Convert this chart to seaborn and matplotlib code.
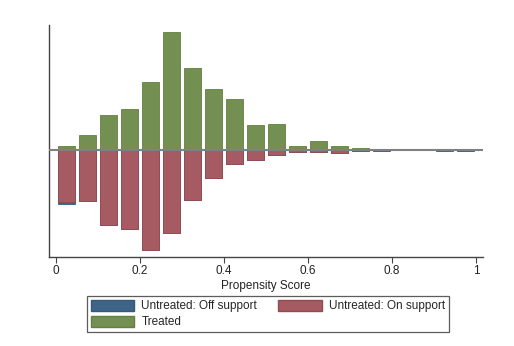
import matplotlib
matplotlib.use("Agg")
import matplotlib.pyplot as plt
import seaborn as sns
import pandas as pd
import numpy as np
from matplotlib.patches import Patch

bins = [0.025, 0.075, 0.125, 0.175, 0.225, 0.275, 0.325, 0.375, 0.425, 0.475,
        0.525, 0.575, 0.625, 0.675, 0.725, 0.775, 0.825, 0.875, 0.925, 0.975]
treated = [0.13, 0.46, 1.07, 1.24, 2.05, 3.56, 2.48, 1.84, 1.54, 0.77,
           0.80, 0.13, 0.28, 0.13, 0.07, 0.0, 0.0, 0.0, 0.0, 0.0]
untreated_on = [1.55, 1.53, 2.24, 2.36, 2.99, 2.49, 1.50, 0.83, 0.41, 0.29,
                0.14, 0.05, 0.05, 0.09, 0.02, 0.0, 0.0, 0.0, 0.0, 0.0]
untreated_off = [0.05, 0.0, 0.0, 0.0, 0.0, 0.0, 0.0, 0.0, 0.0, 0.0,
                 0.0, 0.0, 0.0, 0.0, 0.0, 0.025, 0.0, 0.0, 0.025, 0.025]
xticks = [0, 0.2, 0.4, 0.6, 0.8, 1]
xticklabels = ["0", "0.2", "0.4", "0.6", "0.8", "1"]

c_off = "#3E6587"
c_on = "#A65A62"
c_tr = "#748F52"

df = pd.DataFrame({"ps": bins, "treated": treated,
                   "on": [-v for v in untreated_on],
                   "total": [-(a + b) for a, b in zip(untreated_on, untreated_off)]})

sns.set_style("white")
plt.rcParams["font.family"] = ["Liberation Sans", "DejaVu Sans"]

fig = plt.figure(figsize=(5.14, 3.46), dpi=100)
ax = fig.add_axes([49/514, 1-257/346, (483-49)/514, (257-25)/346])

sns.barplot(data=df, x="ps", y="total", native_scale=True, width=0.8,
            color=c_off, saturation=1, edgecolor="#35597A", linewidth=0.6, ax=ax)
sns.barplot(data=df, x="ps", y="on", native_scale=True, width=0.8,
            color=c_on, saturation=1, edgecolor="#964A52", linewidth=0.6, ax=ax)
sns.barplot(data=df, x="ps", y="treated", native_scale=True, width=0.8,
            color=c_tr, saturation=1, edgecolor="#637F42", linewidth=0.6, ax=ax)

ax.axhline(0, color="#808080", linewidth=1.5, zorder=5)

ax.set_xlim(-0.0167, 1.017)
ax.set_ylim(-3.20, 3.77)
ax.set_xticks(xticks)
ax.set_xticklabels(xticklabels, fontsize=8.5, color="#222222")
ax.set_yticks([])
ax.set_ylabel("")
ax.set_xlabel("Propensity Score", fontsize=8.5, color="#222222", labelpad=2)
ax.tick_params(axis="x", direction="out", length=4, width=0.8, color="#444444",
               bottom=True, pad=2)
for s in ["top", "right"]:
    ax.spines[s].set_visible(False)
for s in ["left", "bottom"]:
    ax.spines[s].set_color("#444444")
    ax.spines[s].set_linewidth(1.0)

handles = [Patch(facecolor=c_off, edgecolor="#35597A", label="Untreated: Off support"),
           Patch(facecolor=c_tr, edgecolor="#637F42", label="Treated"),
           Patch(facecolor=c_on, edgecolor="#964A52", label="Untreated: On support")]
leg = fig.legend(handles=handles, ncol=2, loc="center",
                 bbox_to_anchor=(268/514, 1-314/346), fontsize=8.5,
                 frameon=True, fancybox=False, edgecolor="#333333",
                 handlelength=3.7, handleheight=1.1, columnspacing=1.8,
                 labelspacing=0.3, borderpad=0.3, handletextpad=0.6)
leg.get_frame().set_linewidth(0.9)

fig.savefig("out.png", dpi=100)
